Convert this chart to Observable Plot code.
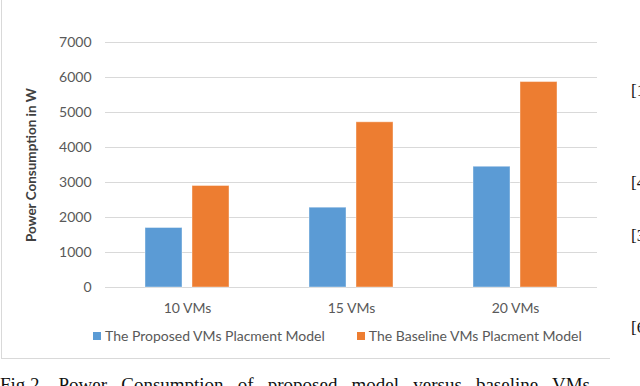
<!DOCTYPE html>
<html>
<head>
<meta charset="utf-8">
<script src="https://cdn.jsdelivr.net/npm/d3@7"></script>
<script src="https://cdn.jsdelivr.net/npm/@observablehq/plot@0.6"></script>
<style>
  html, body { margin: 0; padding: 0; background: #fff; }
  body { width: 640px; height: 386px; overflow: hidden; position: relative; font-family: Lato, "Open Sans", sans-serif; }
  #box { position: absolute; left: 1px; top: -2px; width: 609px; height: 361px; border-left: 1px solid #d9d9d9; border-bottom: 1px solid #d9d9d9; box-sizing: border-box; }
  #chart { position: absolute; left: 0; top: 0; }
  #chart svg [aria-label="y-axis label"] text { font-weight: 700; fill: #404040; font-size: 13.5px; }
  #legend { position: absolute; left: 93px; top: 327px; display: flex; align-items: center; gap: 32px; color: #595959; font-size: 14px; font-family: Lato, sans-serif; }
  .item { display: flex; align-items: center; gap: 4px; white-space: nowrap; }
  .sw { width: 8px; height: 8px; display: inline-block; }
  #caption { position: absolute; left: 0px; top: 375px; width: 590px; font-family: "Liberation Serif", "DejaVu Serif", serif; font-size: 19px; line-height: 19px; color: #111; text-align: justify; text-align-last: justify; white-space: nowrap; }
  #caption .unit { display: inline-block; }
  .side { position: absolute; left: 631px; font-family: "Liberation Serif", serif; font-size: 17px; line-height: 17px; color: #111; white-space: nowrap; }
</style>
</head>
<body>
<div id="box"></div>
<div id="chart"></div>
<div id="legend"></div>
<div id="caption"></div>
<div id="sides"></div>
<script>
// ---- data ----
const groups = ["10 VMs", "15 VMs", "20 VMs"];
const seriesNames = ["The Proposed VMs Placment Model", "The Baseline VMs Placment Model"];
const proposed = [1700, 2280, 3450];
const baseline = [2900, 4720, 5870];
const yTicks = [0, 1000, 2000, 3000, 4000, 5000, 6000, 7000];
const colors = ["#5B9BD5", "#ED7D31"];
const yLabel = "Power Consumption in W";
const captionLead = "Fig 2.";
const captionRest = "Power Consumption of proposed model versus baseline VMs";
const sideRefs = ["[1", "[4", "[3", "[6"];
const sideTops = [82, 174, 227, 319];

const data = [];
groups.forEach((g, i) => {
  data.push({group: g, series: seriesNames[0], value: proposed[i]});
  data.push({group: g, series: seriesNames[1], value: baseline[i]});
});

const chart = Plot.plot({
  width: 640,
  height: 320,
  marginLeft: 105,
  marginRight: 43,
  marginTop: 42,
  marginBottom: 33,
  style: {fontFamily: "Lato, 'Open Sans', sans-serif", fontSize: "14px", color: "#595959", background: "transparent"},
  fx: {domain: groups, padding: 0, label: null, axis: "bottom", tickSize: 0, tickPadding: 16},
  x: {domain: seriesNames, paddingInner: 0.213, paddingOuter: 0.851, axis: null},
  y: {domain: [0, 7000], ticks: yTicks, tickFormat: "d", tickSize: 0, tickPadding: 14,
      label: yLabel, labelAnchor: "center", labelArrow: "none", labelOffset: 79},
  color: {domain: seriesNames, range: colors},
  marks: [
    Plot.gridY(yTicks, {stroke: "#d9d9d9", strokeOpacity: 1, strokeWidth: 1}),
    Plot.barY(data, {fx: "group", x: "series", y: "value", fill: "series", stroke: "#ffffff", strokeOpacity: 0.4, strokeWidth: 1})
  ]
});
document.getElementById("chart").appendChild(chart);

// legend
const legend = document.getElementById("legend");
seriesNames.forEach((s, i) => {
  const item = document.createElement("div");
  item.className = "item";
  const sw = document.createElement("span");
  sw.className = "sw";
  sw.style.background = colors[i];
  const t = document.createElement("span");
  t.textContent = s;
  item.appendChild(sw);
  item.appendChild(t);
  legend.appendChild(item);
});

// caption (cut off at the bottom edge, as in the reference)
const cap = document.getElementById("caption");
const lead = document.createElement("span");
lead.className = "unit";
lead.textContent = captionLead;
cap.appendChild(lead);
cap.appendChild(document.createTextNode(" " + captionRest));

const sides = document.getElementById("sides");
sideRefs.forEach((r, i) => {
  const d = document.createElement("div");
  d.className = "side";
  d.style.top = sideTops[i] + "px";
  d.textContent = r;
  sides.appendChild(d);
});
</script>
</body>
</html>
